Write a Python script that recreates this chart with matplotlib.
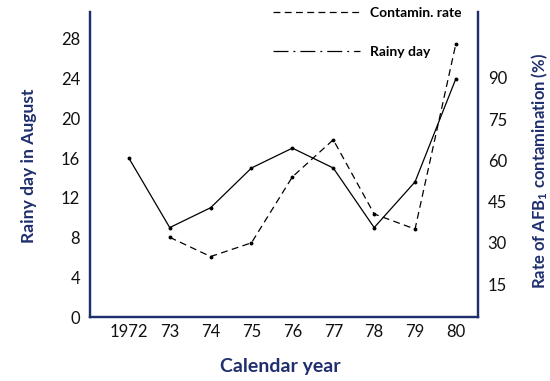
import numpy as np
import matplotlib
matplotlib.use("Agg")
import matplotlib.pyplot as plt
from matplotlib.lines import Line2D

plt.rcParams['font.family'] = ['Lato', 'DejaVu Sans']
plt.rcParams['mathtext.default'] = 'regular'

navy = '#1f2f6e'

years = [1972, 1973, 1974, 1975, 1976, 1977, 1978, 1979, 1980]
year_labels = ['1972', '73', '74', '75', '76', '77', '78', '79', '80']
rainy_days = [16, 9, 11, 15, 17, 15, 9, 13.6, 24]

contam_years = [1973, 1974, 1975, 1976, 1977, 1978, 1979, 1980]
contam_rate = [32, 25, 30, 54, 67.5, 40.5, 35, 102.5]

fig = plt.figure(figsize=(5.5, 3.81), dpi=100)
ax = fig.add_axes([90 / 550, 1 - 317 / 381, 388 / 550, 305 / 381])
ax2 = ax.twinx()

ax.plot(years, rainy_days, color='black', lw=0.9, marker='o', ms=1.8)
ax2.plot(contam_years, contam_rate, color='black', lw=0.9, dashes=(5.5, 3.5),
         marker='o', ms=1.8)

ax.set_xlim(1971.05, 1980.54)
ax.set_ylim(0, 30.7)
ax2.set_ylim(3.0, 114.0)

ax.set_xticks(years)
ax.set_xticklabels(year_labels)
ax.set_yticks(np.arange(0, 29, 4))
ax2.set_yticks([15, 30, 45, 60, 75, 90])

ax.tick_params(axis='both', length=0, labelsize=12, colors='#111111')
ax.tick_params(axis='y', pad=7)
ax.tick_params(axis='x', pad=5)
ax2.tick_params(axis='y', length=0, labelsize=12, pad=7, colors='#111111')

for a in (ax, ax2):
    a.spines['top'].set_visible(False)
    for s in ('left', 'right', 'bottom'):
        a.spines[s].set_color(navy)
        a.spines[s].set_linewidth(1.6)

ax.set_xlabel('Calendar year', fontsize=14, fontweight='bold', color=navy)
ax.xaxis.set_label_coords(0.49, -0.134)
ax.set_ylabel('Rainy day in August', fontsize=12.6, fontweight='bold', color=navy)
ax.yaxis.set_label_coords(-0.137, 0.495)
ax2.set_ylabel('Rate of AFB$_1$ contamination (%)', fontsize=12,
               fontweight='bold', color=navy)
ax2.yaxis.set_label_coords(1.134, 0.478)

handles = [
    Line2D([], [], color='black', lw=0.9, dashes=(5.5, 3.5)),
    Line2D([], [], color='black', lw=0.9, dashes=(12, 4, 1.5, 4)),
]
leg = ax.legend(handles, ['Contamin. rate', 'Rainy day'], loc='upper left',
                bbox_to_anchor=(0.4716, 1.018), frameon=False, fontsize=10,
                handlelength=6.3, handletextpad=0.65, labelspacing=1.98,
                borderpad=0, borderaxespad=0)
for t in leg.get_texts():
    t.set_fontweight('bold')

fig.savefig('out.png', dpi=100)
